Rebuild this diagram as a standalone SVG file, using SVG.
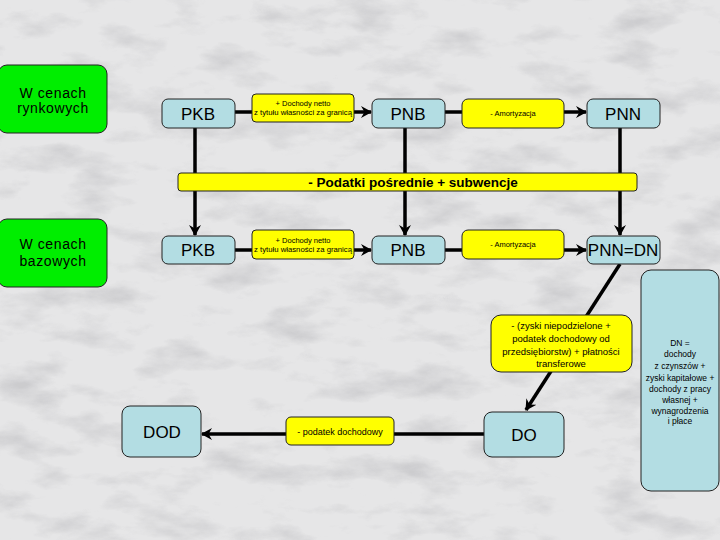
<svg xmlns="http://www.w3.org/2000/svg" width="720" height="540" viewBox="0 0 720 540">
<defs>
<filter id="marble" x="0" y="0" width="100%" height="100%">
<feTurbulence type="fractalNoise" baseFrequency="0.015 0.035" numOctaves="5" seed="7" result="n"/>
<feColorMatrix in="n" type="matrix" values="0 0 0 0 0.5  0 0 0 0 0.5  0 0 0 0 0.52  -2.6 0 0 0 1.35"/>
</filter>
<marker id="arr" markerWidth="12" markerHeight="12" refX="10" refY="6" orient="auto" markerUnits="userSpaceOnUse">
<path d="M0,0 L11,6 L0,12 L3.5,6 Z" fill="#000"/>
</marker>
<style>
.lbl{font-family:"Liberation Sans",Arial,sans-serif;fill:#000;text-anchor:middle}
.green{fill:#00ee00;stroke:#222;stroke-width:1}
.blue{fill:#b3dde3;stroke:#222;stroke-width:1}
.yel{fill:#ffff00;stroke:#222;stroke-width:1}
.ln{stroke:#000;stroke-width:3.5;fill:none}
.big{font-size:17px}
.sm{font-size:7.5px}
.mid{font-size:9.5px}
.gt{font-size:14px;letter-spacing:0.6px}
</style>
</defs>
<rect width="720" height="540" fill="#e6e6e7"/>
<rect width="720" height="540" filter="url(#marble)" opacity="0.6"/>

<g id="connectors">
<line class="ln" x1="235" y1="112" x2="252" y2="112"/>
<line class="ln" x1="354" y1="112" x2="371" y2="112" marker-end="url(#arr)"/>
<line class="ln" x1="445" y1="112" x2="462" y2="112"/>
<line class="ln" x1="564" y1="112" x2="586" y2="112" marker-end="url(#arr)"/>
<line class="ln" x1="195" y1="128" x2="195" y2="235" marker-end="url(#arr)"/>
<line class="ln" x1="405" y1="128" x2="405" y2="235" marker-end="url(#arr)"/>
<line class="ln" x1="620" y1="128" x2="620" y2="235" marker-end="url(#arr)"/>
<line class="ln" x1="235" y1="250" x2="252" y2="250"/>
<line class="ln" x1="354" y1="250" x2="371" y2="250" marker-end="url(#arr)"/>
<line class="ln" x1="445" y1="250" x2="462" y2="250"/>
<line class="ln" x1="564" y1="250" x2="586" y2="250" marker-end="url(#arr)"/>
<line class="ln" x1="620" y1="264" x2="526" y2="410" marker-end="url(#arr)"/>
<line class="ln" x1="484" y1="434" x2="202" y2="434" marker-end="url(#arr)"/>
</g>

<g id="banner">
<rect class="yel" x="178" y="173" width="459" height="18" rx="3"/>
<text class="lbl" x="413" y="187" font-size="13.5" font-weight="bold">- Podatki pośrednie + subwencje</text>
</g>

<g id="rynkowe">
<rect class="green" x="-2" y="65" width="109" height="68" rx="9"/>
<text class="lbl gt" x="53" y="98">W cenach</text>
<text class="lbl gt" x="53" y="113">rynkowych</text>
</g>
<g id="bazowe">
<rect class="green" x="-2" y="219" width="109" height="68" rx="9"/>
<text class="lbl gt" x="53" y="249">W cenach</text>
<text class="lbl gt" x="53" y="266">bazowych</text>
</g>

<g id="pkb1"><rect class="blue" x="162" y="99" width="73" height="29" rx="6"/><text class="lbl big" x="198" y="120">PKB</text></g>
<g id="doch1"><rect class="yel" x="252" y="94" width="102" height="28" rx="4"/>
<text class="lbl sm" x="303" y="106">+ Dochody netto</text>
<text class="lbl sm" x="303" y="115" textLength="98" lengthAdjust="spacingAndGlyphs">z tytułu własności za granicą</text></g>
<g id="pnb1"><rect class="blue" x="372" y="99" width="73" height="29" rx="6"/><text class="lbl big" x="408" y="120">PNB</text></g>
<g id="amort1"><rect class="yel" x="462" y="99" width="102" height="29" rx="6"/><text class="lbl sm" x="513" y="116">- Amortyzacja</text></g>
<g id="pnn"><rect class="blue" x="587" y="99" width="73" height="29" rx="6"/><text class="lbl big" x="623" y="120">PNN</text></g>

<g id="pkb2"><rect class="blue" x="162" y="236" width="73" height="28" rx="6"/><text class="lbl big" x="198" y="256">PKB</text></g>
<g id="doch2"><rect class="yel" x="252" y="230" width="102" height="29" rx="4"/>
<text class="lbl sm" x="303" y="243">+ Dochody netto</text>
<text class="lbl sm" x="303" y="252" textLength="98" lengthAdjust="spacingAndGlyphs">z tytułu własności za granicą</text></g>
<g id="pnb2"><rect class="blue" x="372" y="236" width="73" height="28" rx="6"/><text class="lbl big" x="408" y="256">PNB</text></g>
<g id="amort2"><rect class="yel" x="462" y="230" width="102" height="29" rx="6"/><text class="lbl sm" x="513" y="247">- Amortyzacja</text></g>
<g id="pnndn"><rect class="blue" x="587" y="236" width="73" height="28" rx="6"/><text class="lbl big" x="623" y="256">PNN=DN</text></g>

<g id="zyski"><rect class="yel" x="491" y="315" width="141" height="57" rx="10"/>
<text class="lbl mid" x="561" y="329">- (zyski niepodzielone +</text>
<text class="lbl mid" x="561" y="342">podatek dochodowy od</text>
<text class="lbl mid" x="561" y="355">przedsiębiorstw) + płatności</text>
<text class="lbl mid" x="561" y="367">transferowe</text></g>

<g id="dn"><rect class="blue" x="641" y="270" width="78" height="221" rx="10"/>
<g class="lbl" font-size="8.5">
<text x="680" y="346">DN =</text>
<text x="680" y="357">dochody</text>
<text x="680" y="369">z czynszów +</text>
<text x="680" y="381">zyski kapitałowe +</text>
<text x="680" y="392">dochody z pracy</text>
<text x="680" y="403">własnej +</text>
<text x="680" y="414">wynagrodzenia</text>
<text x="680" y="424">i płace</text>
</g></g>

<g id="do"><rect class="blue" x="484" y="412" width="80" height="45" rx="8"/><text class="lbl big" x="524" y="441">DO</text></g>
<g id="dod"><rect class="blue" x="122" y="406" width="79" height="51" rx="8"/><text class="lbl big" x="162" y="438">DOD</text></g>
<g id="podatek"><rect class="yel" x="286" y="417" width="108" height="28" rx="5"/><text class="lbl" font-size="9" x="340" y="435">- podatek dochodowy</text></g>
</svg>
